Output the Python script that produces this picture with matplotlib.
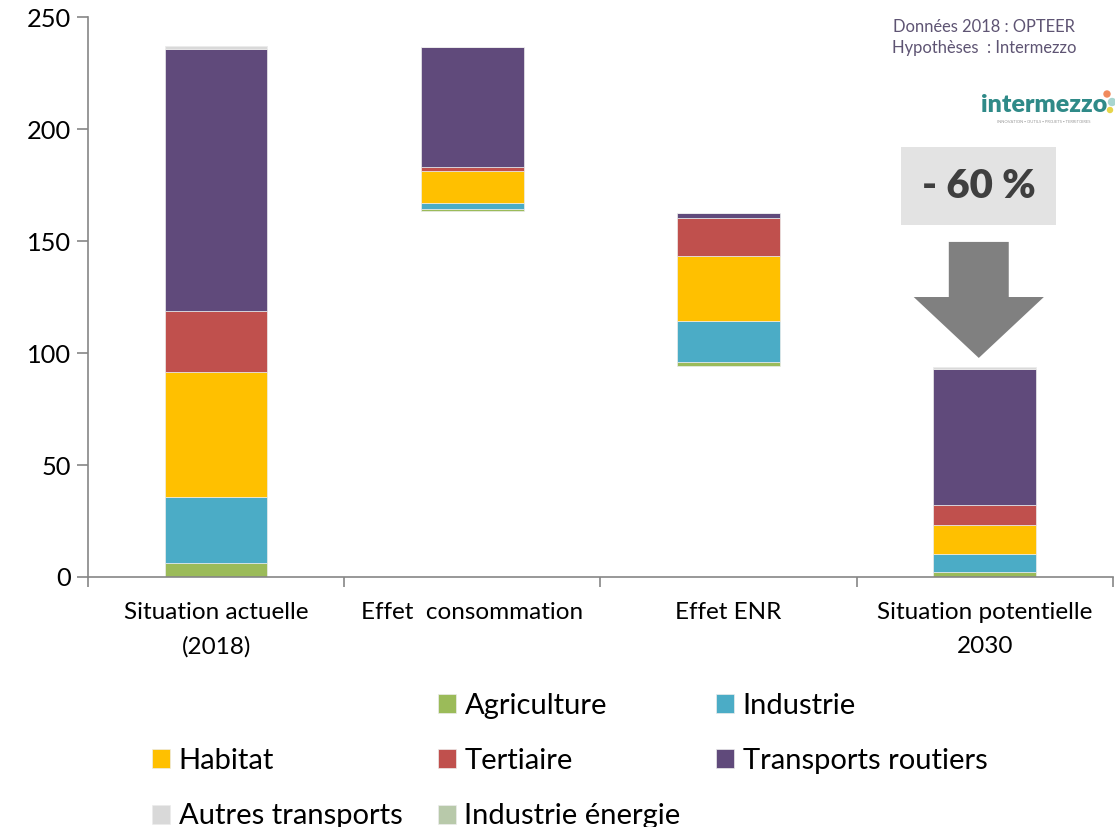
import numpy as np
import matplotlib
matplotlib.use("Agg")
import matplotlib.pyplot as plt
from matplotlib.patches import Rectangle, FancyArrow, Circle

plt.rcParams["font.family"] = ["Lato", "DejaVu Sans"]

# ── Data ─────────────────────────────────────────────────────────────────────
categories = ["Situation actuelle\n(2018)", "Effet  consommation", "Effet ENR",
              "Situation potentielle\n2030"]
base = [0, 163.2, 94.1, 0]          # invisible floating offset (waterfall)

sectors = ["Agriculture", "Industrie", "Habitat", "Tertiaire",
           "Transports routiers", "Autres transports", "Industrie énergie"]
agriculture = [6.2, 1.2, 2.0, 2.2]
industrie = [29.5, 2.6, 18.3, 8.2]
habitat = [55.8, 14.3, 29.1, 12.9]
tertiaire = [27.4, 1.9, 16.9, 8.8]
transports = [117.0, 53.4, 2.1, 60.9]
autres_transports = [1.1, 0.0, 0.0, 0.6]
industrie_energie = [0.2, 0.0, 0.0, 0.2]

COLORS = ["#9BBB59", "#4BACC6", "#FFC000", "#C0504D", "#604A7B",
          "#D9D9D9", "#B8C9AA"]

# ── Figure ───────────────────────────────────────────────────────────────────
fig = plt.figure(figsize=(11.15, 8.27), dpi=100)
ax = fig.add_axes([0.0789, 0.3023, 0.9191, 0.6771])

x = np.arange(len(categories))
bw = 0.4
ax.bar(x, base, bw, color="none", edgecolor="none", label=" ")
bottom = np.array(base, dtype=float)
for vals, name, col in zip([agriculture, industrie, habitat, tertiaire, transports,
                            autres_transports, industrie_energie], sectors, COLORS):
    ax.bar(x, vals, bw, bottom=bottom, color=col, edgecolor="#ececec",
           linewidth=0.5, label=name)
    bottom += np.array(vals)

ax.set_xlim(-0.5, 3.5)
ax.set_ylim(0, 250)
ax.set_yticks(range(0, 251, 50))
ax.set_xticks(x)
ax.set_xticklabels(categories, fontsize=17.5, linespacing=1.75)
ax.set_xticks(np.arange(-0.5, 3.6, 1), minor=True)
ax.tick_params(axis="x", which="major", length=0, pad=18)
ax.tick_params(axis="x", which="minor", length=7, color="#868686", width=1.2)
ax.tick_params(axis="y", length=8, color="#868686", width=1.2, labelsize=18.3, pad=4)
for s in ["top", "right"]:
    ax.spines[s].set_visible(False)
for s in ["left", "bottom"]:
    ax.spines[s].set_color("#868686")
    ax.spines[s].set_linewidth(1.2)

# ── -60 % callout ────────────────────────────────────────────────────────────
ax.add_patch(Rectangle((2.673, 157), 0.605, 35, facecolor="#E3E3E3",
                       edgecolor="none", zorder=3))
ax.text(2.977, 174.5, "- 60 %", fontsize=29, fontweight="heavy", color="#3F3F3F",
        ha="center", va="center", zorder=4)
ax.add_patch(FancyArrow(2.977, 149.6, 0, -51.8, width=0.234, head_width=0.508,
                        head_length=27.2, length_includes_head=True,
                        facecolor="#808080", edgecolor="none", zorder=3))

# ── Source / logo ────────────────────────────────────────────────────────────
fig.text(984 / 1115, 1 - 27 / 827, "Données 2018 : OPTEER", fontsize=11.9,
         color="#5E5473", ha="center", va="center")
fig.text(984 / 1115, 1 - 48 / 827, "Hypothèses  : Intermezzo", fontsize=11.9,
         color="#5E5473", ha="center", va="center")
fig.text(1044 / 1115, 1 - 105 / 827, "intermezzo", fontsize=18, fontweight="heavy",
         color="#2F8A88", ha="center", va="center")
fig.text(1044 / 1115, 1 - 122 / 827, "INNOVATION \u25aa OUTILS \u25aa PROJETS \u25aa TERRITOIRES",
         fontsize=3.0, color="#9a9a9a", ha="center", va="center")
for (px, py, r, c) in [(1107, 94, 3, "#F08A5D"), (1112, 102, 3.5, "#A8D5CF"),
                       (1110, 110, 2.5, "#E6D54A")]:
    fig.add_artist(Circle((px / 100, (827 - py) / 100), r / 100, color=c,
                          transform=fig.dpi_scale_trans))

# ── Legend (column-major order to mimic row-wise Excel layout) ───────────────
h, l = ax.get_legend_handles_labels()
order = [0, 3, 6, 1, 4, 7, 2, 5]
fig.legend([h[i] for i in order], [l[i] for i in order], loc="upper left",
           bbox_to_anchor=(152 / 1115, 1 - 693 / 827), ncol=3, frameon=False,
           fontsize=21, handlelength=0.62, handleheight=0.62, handletextpad=0.3,
           columnspacing=1.2, labelspacing=1.0, borderaxespad=0, borderpad=0)

fig.savefig("out.png", dpi=100)
